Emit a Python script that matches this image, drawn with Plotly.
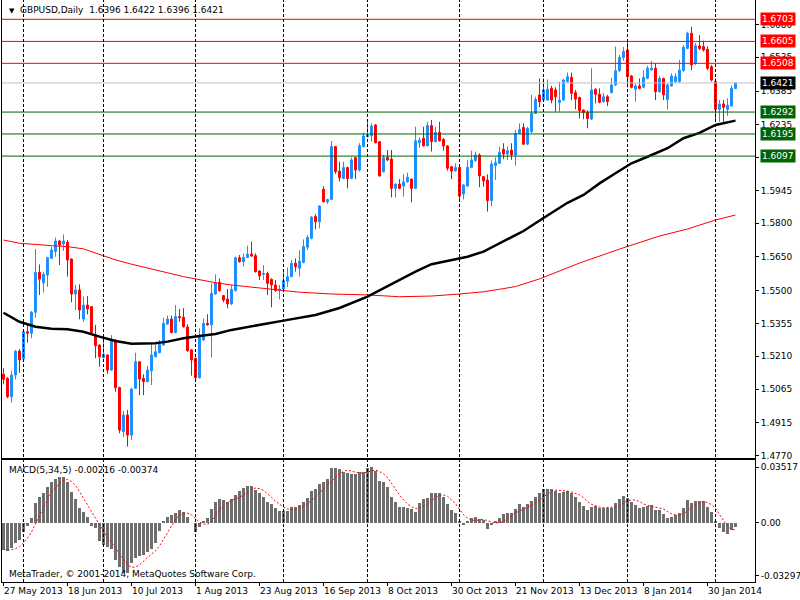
import plotly.graph_objects as go
from plotly.subplots import make_subplots

# GBPUSD daily bars, 27 May 2013 .. early Feb 2014 (bar index 0..183)
opens = [
    1.5131, 1.5112, 1.5031, 1.5127, 1.5233, 1.5198, 1.5319, 1.5312, 1.5405, 1.5582,
    1.5536, 1.5570, 1.5644, 1.5674, 1.5721, 1.5708, 1.5715, 1.5641, 1.5486, 1.5504,
    1.5375, 1.5437, 1.5430, 1.5304, 1.5260, 1.5204, 1.5216, 1.5149, 1.5282, 1.5072,
    1.4876, 1.4950, 1.4861, 1.5068, 1.5186, 1.5112, 1.5098, 1.5146, 1.5208, 1.5226,
    1.5260, 1.5353, 1.5375, 1.5315, 1.5386, 1.5383, 1.5340, 1.5238, 1.5201, 1.5115,
    1.5282, 1.5356, 1.5349, 1.5486, 1.5538, 1.5479, 1.5464, 1.5442, 1.5501, 1.5647,
    1.5629, 1.5648, 1.5663, 1.5656, 1.5588, 1.5573, 1.5577, 1.5551, 1.5526, 1.5501,
    1.5508, 1.5543, 1.5563, 1.5622, 1.5600, 1.5626, 1.5693, 1.5733, 1.5829, 1.5806,
    1.5950, 1.5895, 1.5905, 1.6139, 1.6031, 1.5998, 1.6046, 1.5998, 1.6090, 1.6035,
    1.6139, 1.6183, 1.6187, 1.6235, 1.6161, 1.6028, 1.6091, 1.6084, 1.5954, 1.5973,
    1.5964, 1.5983, 1.5995, 1.5954, 1.6156, 1.6176, 1.6143, 1.6232, 1.6161, 1.6202,
    1.6171, 1.6142, 1.6050, 1.6032, 1.6046, 1.5929, 1.5964, 1.6047, 1.6077, 1.6102,
    1.6006, 1.5991, 1.5900, 1.6055, 1.6065, 1.6127, 1.6106, 1.6124, 1.6102, 1.6198,
    1.6224, 1.6150, 1.6205, 1.6286, 1.6368, 1.6345, 1.6345, 1.6397, 1.6390, 1.6334,
    1.6345, 1.6427, 1.6446, 1.6378, 1.6357, 1.6301, 1.6290, 1.6261, 1.6393, 1.6371,
    1.6338, 1.6360, 1.6378, 1.6412, 1.6475, 1.6534, 1.6567, 1.6452, 1.6393, 1.6408,
    1.6402, 1.6442, 1.6478, 1.6486, 1.6382, 1.6441, 1.6348, 1.6408, 1.6427, 1.6427,
    1.6475, 1.6574, 1.6641, 1.6508, 1.6585, 1.6582, 1.6570, 1.6493, 1.6427, 1.6304,
    1.6328, 1.6304, 1.6319, 1.6396,
]
highs = [
    1.5157, 1.5118, 1.5146, 1.5238, 1.5242, 1.5322, 1.5356, 1.5411, 1.5685, 1.5617,
    1.5585, 1.5651, 1.5696, 1.5736, 1.5725, 1.5750, 1.5725, 1.5644, 1.5526, 1.5529,
    1.5474, 1.5477, 1.5433, 1.5349, 1.5263, 1.5307, 1.5219, 1.5304, 1.5287, 1.5075,
    1.4968, 1.4972, 1.5071, 1.5226, 1.5189, 1.5130, 1.5168, 1.5263, 1.5260, 1.5282,
    1.5381, 1.5390, 1.5390, 1.5437, 1.5420, 1.5423, 1.5352, 1.5242, 1.5204, 1.5334,
    1.5378, 1.5396, 1.5533, 1.5573, 1.5555, 1.5482, 1.5508, 1.5526, 1.5651, 1.5659,
    1.5666, 1.5700, 1.5718, 1.5666, 1.5591, 1.5614, 1.5585, 1.5555, 1.5548, 1.5526,
    1.5595, 1.5604, 1.5637, 1.5644, 1.5681, 1.5728, 1.5747, 1.5832, 1.5840, 1.5880,
    1.5964, 1.5908, 1.6164, 1.6142, 1.6072, 1.6072, 1.6050, 1.6091, 1.6094, 1.6154,
    1.6201, 1.6260, 1.6242, 1.6239, 1.6164, 1.6102, 1.6124, 1.6124, 1.5976, 1.5995,
    1.6017, 1.6024, 1.5998, 1.6227, 1.6180, 1.6227, 1.6249, 1.6257, 1.6227, 1.6249,
    1.6176, 1.6146, 1.6053, 1.6065, 1.6050, 1.5973, 1.6080, 1.6121, 1.6117, 1.6109,
    1.6009, 1.6016, 1.6077, 1.6091, 1.6139, 1.6154, 1.6139, 1.6154, 1.6213, 1.6242,
    1.6242, 1.6227, 1.6368, 1.6360, 1.6441, 1.6441, 1.6437, 1.6408, 1.6402, 1.6427,
    1.6440, 1.6467, 1.6467, 1.6390, 1.6360, 1.6304, 1.6300, 1.6486, 1.6397, 1.6397,
    1.6375, 1.6368, 1.6444, 1.6582, 1.6545, 1.6580, 1.6604, 1.6456, 1.6419, 1.6441,
    1.6478, 1.6498, 1.6518, 1.6508, 1.6452, 1.6444, 1.6419, 1.6464, 1.6464, 1.6523,
    1.6589, 1.6648, 1.6670, 1.6597, 1.6633, 1.6608, 1.6582, 1.6501, 1.6441, 1.6345,
    1.6345, 1.6353, 1.6410, 1.6422,
]
lows = [
    1.5086, 1.5024, 1.5004, 1.5108, 1.5137, 1.5194, 1.5270, 1.5290, 1.5381, 1.5482,
    1.5493, 1.5518, 1.5641, 1.5651, 1.5614, 1.5677, 1.5563, 1.5449, 1.5415, 1.5374,
    1.5363, 1.5396, 1.5312, 1.5201, 1.5164, 1.5201, 1.5132, 1.5146, 1.5053, 1.4869,
    1.4854, 1.4810, 1.4839, 1.5065, 1.5038, 1.5038, 1.5095, 1.5083, 1.5205, 1.5223,
    1.5257, 1.5349, 1.5312, 1.5312, 1.5363, 1.5337, 1.5230, 1.5124, 1.5098, 1.5112,
    1.5279, 1.5346, 1.5205, 1.5482, 1.5496, 1.5449, 1.5423, 1.5437, 1.5496, 1.5625,
    1.5607, 1.5646, 1.5651, 1.5581, 1.5548, 1.5548, 1.5482, 1.5427, 1.5496, 1.5462,
    1.5500, 1.5518, 1.5560, 1.5585, 1.5563, 1.5622, 1.5681, 1.5728, 1.5772, 1.5777,
    1.5891, 1.5885, 1.5902, 1.6018, 1.5984, 1.5995, 1.5954, 1.5995, 1.5995, 1.6028,
    1.6136, 1.6180, 1.6161, 1.6154, 1.6006, 1.6024, 1.6075, 1.5914, 1.5914, 1.5950,
    1.5917, 1.5979, 1.5892, 1.5950, 1.6134, 1.6139, 1.6139, 1.6117, 1.6158, 1.6161,
    1.6121, 1.6032, 1.5995, 1.6028, 1.5905, 1.5905, 1.5961, 1.6043, 1.6072, 1.5959,
    1.5961, 1.5851, 1.5876, 1.5991, 1.6062, 1.6083, 1.6080, 1.6080, 1.6055, 1.6195,
    1.6146, 1.6146, 1.6198, 1.6283, 1.6313, 1.6340, 1.6342, 1.6331, 1.6294, 1.6294,
    1.6342, 1.6422, 1.6345, 1.6304, 1.6264, 1.6260, 1.6220, 1.6257, 1.6331, 1.6331,
    1.6334, 1.6319, 1.6375, 1.6408, 1.6471, 1.6520, 1.6402, 1.6397, 1.6338, 1.6393,
    1.6397, 1.6437, 1.6475, 1.6345, 1.6378, 1.6345, 1.6304, 1.6405, 1.6420, 1.6422,
    1.6471, 1.6570, 1.6478, 1.6501, 1.6567, 1.6560, 1.6478, 1.6427, 1.6249, 1.6249,
    1.6245, 1.6275, 1.6316, 1.6396,
]
closes = [
    1.5108, 1.5031, 1.5127, 1.5233, 1.5194, 1.5319, 1.5312, 1.5405, 1.5582, 1.5552,
    1.5573, 1.5647, 1.5681, 1.5721, 1.5703, 1.5721, 1.5637, 1.5486, 1.5504, 1.5415,
    1.5437, 1.5420, 1.5316, 1.5257, 1.5208, 1.5219, 1.5149, 1.5282, 1.5071, 1.4883,
    1.4950, 1.4861, 1.5065, 1.5186, 1.5109, 1.5098, 1.5149, 1.5216, 1.5230, 1.5263,
    1.5356, 1.5375, 1.5315, 1.5386, 1.5381, 1.5341, 1.5235, 1.5194, 1.5115, 1.5297,
    1.5356, 1.5349, 1.5489, 1.5536, 1.5501, 1.5459, 1.5442, 1.5507, 1.5647, 1.5629,
    1.5648, 1.5663, 1.5654, 1.5585, 1.5566, 1.5577, 1.5533, 1.5526, 1.5501, 1.5508,
    1.5545, 1.5563, 1.5622, 1.5607, 1.5632, 1.5696, 1.5736, 1.5826, 1.5806, 1.5876,
    1.5895, 1.5905, 1.6139, 1.6028, 1.6001, 1.6046, 1.5998, 1.6080, 1.6035, 1.6143,
    1.6186, 1.6190, 1.6230, 1.6156, 1.6009, 1.6090, 1.6080, 1.5954, 1.5973, 1.5954,
    1.5983, 1.6003, 1.5954, 1.6165, 1.6168, 1.6143, 1.6232, 1.6161, 1.6202, 1.6165,
    1.6142, 1.6043, 1.6031, 1.6046, 1.5920, 1.5969, 1.6047, 1.6080, 1.6102, 1.6009,
    1.5987, 1.5900, 1.6062, 1.6068, 1.6114, 1.6106, 1.6121, 1.6102, 1.6198, 1.6216,
    1.6150, 1.6220, 1.6286, 1.6348, 1.6338, 1.6390, 1.6393, 1.6345, 1.6360, 1.6345,
    1.6434, 1.6449, 1.6375, 1.6350, 1.6298, 1.6290, 1.6264, 1.6390, 1.6371, 1.6335,
    1.6360, 1.6338, 1.6412, 1.6475, 1.6534, 1.6560, 1.6449, 1.6402, 1.6408, 1.6397,
    1.6446, 1.6486, 1.6486, 1.6382, 1.6441, 1.6368, 1.6412, 1.6452, 1.6449, 1.6478,
    1.6579, 1.6641, 1.6501, 1.6586, 1.6574, 1.6567, 1.6486, 1.6434, 1.6304, 1.6328,
    1.6313, 1.6323, 1.6398, 1.6421,
]

# moving averages (bar index, price)
ma_slow_bars = [0, 4, 8, 12, 16, 20, 24, 28, 32, 38, 41, 45, 49, 53, 57, 62, 66, 70,
                78, 84, 91, 95, 99, 103, 107, 112, 116, 120, 124, 128, 130, 135, 141,
                145, 149, 153, 157, 161, 166, 170, 174, 178, 183]
ma_slow_vals = [1.5403, 1.5363, 1.5341, 1.5332, 1.5330, 1.5319, 1.5297, 1.5278, 1.5266,
                1.5268, 1.5275, 1.5290, 1.5300, 1.5309, 1.5327, 1.5344, 1.5356, 1.5368,
                1.5393, 1.5424, 1.5474, 1.5511, 1.5548, 1.5585, 1.5618, 1.5637, 1.5651,
                1.5674, 1.5711, 1.5750, 1.5765, 1.5823, 1.5890, 1.5925, 1.5976, 1.6021,
                1.6065, 1.6094, 1.6132, 1.6176, 1.6200, 1.6235, 1.6254]
ma_long_bars = [0, 4, 12, 16, 20, 24, 28, 32, 37, 41, 45, 49, 53, 57, 62, 70, 74, 82,
                91, 99, 107, 114, 120, 124, 128, 134, 144, 154, 164, 171, 178, 183]
ma_long_vals = [1.5725, 1.5711, 1.5700, 1.5696, 1.5686, 1.5663, 1.5637, 1.5618, 1.5595,
                1.5580, 1.5563, 1.5548, 1.5536, 1.5526, 1.5517, 1.5504, 1.5494, 1.5486,
                1.5482, 1.5474, 1.5477, 1.5486, 1.5496, 1.5507, 1.5519, 1.5553, 1.5623,
                1.5685, 1.5743, 1.5774, 1.5814, 1.5836]

# MACD(5,34,5): main line (histogram) and signal, in units of 1e-4
macd_main = [
    -153, -157, -143, -115, -96, -50, -18, 25, 109, 146,
    169, 202, 227, 243, 258, 258, 227, 174, 131, 85,
    62, 34, -18, -31, -100, -124, -134, -147, -208, -246,
    -283, -280, -227, -199, -186, -180, -162, -147, -111, -44,
    6, 34, 44, 58, 72, 62, 34, 0, -50, -25,
    10, 27, 75, 118, 133, 128, 118, 131, 156, 180,
    193, 208, 208, 184, 165, 143, 118, 103, 81, 68,
    68, 68, 90, 90, 100, 118, 137, 180, 189, 215,
    227, 243, 305, 305, 300, 286, 280, 273, 271, 283,
    286, 305, 314, 292, 236, 227, 199, 146, 118, 90,
    90, 81, 77, 62, 109, 133, 137, 169, 165, 165,
    143, 103, 72, 57, 10, -12, 6, 25, 34, 21,
    16, -35, -12, 6, 28, 47, 53, 58, 77, 103,
    90, 103, 124, 146, 169, 187, 189, 189, 180, 165,
    174, 180, 165, 146, 118, 96, 72, 90, 94, 86,
    81, 81, 86, 109, 131, 152, 137, 118, 100, 86,
    90, 96, 100, 72, 72, 49, 28, 34, 44, 57,
    86, 128, 114, 121, 121, 121, 90, 62, 6, -30,
    -50, -62, -40, -22,
]
macd_signal = [
    -148, -152, -150, -145, -133, -112, -84, -51, -6, 42,
    86, 130, 171, 197, 220, 238, 243, 232, 210, 175,
    136, 97, 59, 26, -11, -48, -81, -107, -143, -172,
    -204, -233, -249, -247, -235, -214, -191, -175, -157, -129,
    -92, -52, -14, 20, 43, 54, 54, 45, 24, 4,
    -6, -8, 7, 41, 73, 96, 114, 126, 133, 143,
    156, 174, 189, 195, 192, 182, 164, 143, 122, 103,
    88, 78, 75, 77, 83, 93, 107, 125, 145, 168,
    190, 211, 236, 259, 276, 288, 295, 289, 282, 279,
    279, 284, 292, 296, 287, 275, 254, 220, 185, 156,
    129, 105, 91, 80, 84, 92, 104, 122, 143, 154,
    156, 149, 130, 108, 77, 46, 27, 17, 13, 15,
    20, 12, 5, -1, 1, 7, 24, 38, 53, 68,
    76, 86, 99, 113, 126, 146, 163, 176, 183, 182,
    179, 178, 173, 166, 157, 141, 119, 104, 94, 88,
    85, 86, 86, 89, 98, 112, 123, 129, 128, 119,
    106, 98, 94, 89, 86, 78, 64, 51, 45, 42,
    50, 70, 86, 101, 114, 121, 113, 103, 80, 49,
    14, -18, -39, -37,
]

# horizontal levels drawn on the chart
resist_levels = [1.6703, 1.6605, 1.6508]
support_levels = [1.6292, 1.6195, 1.6097]
last_price = 1.6421

price_ticks = [1.4770, 1.4915, 1.5065, 1.5210, 1.5355, 1.5500, 1.5650, 1.5800,
               1.5945, 1.6090, 1.6235, 1.6385, 1.6535, 1.6680]
date_ticks = [0, 16, 32, 48, 64, 80, 96, 112, 128, 144, 160, 176]
date_labels = ['27 May 2013', '18 Jun 2013', '10 Jul 2013', '1 Aug 2013', '23 Aug 2013',
               '16 Sep 2013', '8 Oct 2013', '30 Oct 2013', '21 Nov 2013', '13 Dec 2013',
               '8 Jan 2014', '30 Jan 2014']
month_start_bars = [5, 25, 48, 70, 91, 114, 135, 156, 178]

FONT = 'DejaVu Sans'
BLUE = '#1E90FF'
RED = '#FF0000'
GREEN = '#006400'

bars = list(range(len(closes)))

fig = make_subplots(rows=2, cols=1, shared_xaxes=True)

fig.add_trace(go.Candlestick(
    x=bars, open=opens, high=highs, low=lows, close=closes,
    increasing=dict(line=dict(color=BLUE, width=1), fillcolor=BLUE),
    decreasing=dict(line=dict(color=RED, width=1), fillcolor=RED),
    whiskerwidth=0, hoverinfo='skip'), row=1, col=1)

fig.add_trace(go.Scatter(x=ma_long_bars, y=ma_long_vals, mode='lines',
                         line=dict(color=RED, width=1), hoverinfo='skip'), row=1, col=1)
fig.add_trace(go.Scatter(x=ma_slow_bars, y=ma_slow_vals, mode='lines',
                         line=dict(color='black', width=2.5), hoverinfo='skip'), row=1, col=1)

fig.add_trace(go.Bar(x=bars, y=[v / 10000 for v in macd_main], width=0.75,
                     marker=dict(color='#6E6E6E', line=dict(width=0)),
                     hoverinfo='skip'), row=2, col=1)
fig.add_trace(go.Scatter(x=bars, y=[v / 10000 for v in macd_signal], mode='lines',
                         line=dict(color=RED, width=1, dash='2px,2px'),
                         hoverinfo='skip'), row=2, col=1)

# levels + their price tags on the right
for lvl in resist_levels:
    fig.add_hline(y=lvl, line_color=RED, line_width=1, row=1, col=1)
for lvl in support_levels:
    fig.add_hline(y=lvl, line_color=GREEN, line_width=1, row=1, col=1)
fig.add_hline(y=last_price, line_color='#C0C0C0', line_width=1, row=1, col=1)

tags = [(l, RED) for l in resist_levels] + [(l, GREEN) for l in support_levels] + [(last_price, 'black')]
for lvl, col in tags:
    fig.add_annotation(x=1, xref='paper', xanchor='left', xshift=5, y=lvl, yref='y',
                       text=f'{lvl:.4f}', showarrow=False, bgcolor=col, borderpad=1,
                       font=dict(family=FONT, size=9, color='white'))

# month separators
for b in month_start_bars:
    fig.add_shape(type='line', xref='x', x0=b, x1=b, yref='paper', y0=0, y1=1,
                  line=dict(color='black', width=1, dash='3px,2px'))

for b, lab in zip(date_ticks, date_labels):
    fig.add_annotation(x=b, xref='x2', xanchor='left', xshift=-2, y=0, yref='paper',
                       yanchor='top', yshift=-2, text=lab, showarrow=False,
                       font=dict(family=FONT, size=9, color='black'))

fig.add_annotation(x=0.007, xref='paper', xanchor='left', y=1, yref='paper', yanchor='top',
                   yshift=-5, text='▼', showarrow=False, font=dict(family=FONT, size=7, color='black'))
fig.add_annotation(x=0.021, xref='paper', xanchor='left', y=1, yref='paper', yanchor='top',
                   yshift=-3, text='GBPUSD,Daily  1.6396 1.6422 1.6396 1.6421', showarrow=False,
                   font=dict(family=FONT, size=9, color='black'))
fig.add_annotation(x=0.006, xref='paper', xanchor='left', y=0.2096, yref='paper', yanchor='top',
                   yshift=-3, text='MACD(5,34,5) -0.00216 -0.00374', showarrow=False,
                   font=dict(family=FONT, size=9, color='black'))
fig.add_annotation(x=0.006, xref='paper', xanchor='left', y=0, yref='paper', yanchor='bottom',
                   yshift=1, text='MetaTrader, © 2001-2014, MetaQuotes Software Corp.', showarrow=False,
                   font=dict(family=FONT, size=9, color='black'))

axis_common = dict(showgrid=False, zeroline=False, showline=True, mirror=True,
                   linecolor='black', linewidth=1)

# half-pixel offset so 1px wicks and 3px bars land on whole pixels
fig.update_xaxes(range=[-0.375, 187.875], **axis_common)
fig.update_xaxes(showticklabels=False, rangeslider_visible=False, ticks='', row=1, col=1)
fig.update_xaxes(tickvals=date_ticks, showticklabels=False, ticks='outside', ticklen=3,
                 tickcolor='black', row=2, col=1)

fig.update_yaxes(domain=[0.2131, 1], range=[1.47596, 1.67885], side='right',
                 tickvals=price_ticks, ticktext=[f'{v:.4f}' for v in price_ticks],
                 ticks='outside', ticklen=3, tickcolor='black',
                 tickfont=dict(family=FONT, size=9, color='black'), row=1, col=1, **axis_common)
fig.update_yaxes(domain=[0, 0.2096], range=[-0.0331, 0.0352], side='right',
                 tickvals=[0.0312, 0.0, -0.0296], ticktext=['0.03517', '0.00', '-0.03297'],
                 ticks='outside', ticklen=3, tickcolor='black',
                 tickfont=dict(family=FONT, size=9, color='black'), row=2, col=1, **axis_common)

fig.update_layout(
    width=800, height=600,
    margin=dict(l=2, r=45, t=0, b=18),
    paper_bgcolor='white', plot_bgcolor='white',
    showlegend=False, bargap=0,
    hovermode=False,
)

# the page body has a default 8px margin; drop it so the figure sits at 0,0
fig.write_html('out.html', config={'displayModeBar': False},
               post_script="document.body.style.margin='0';document.body.style.overflow='hidden';")
